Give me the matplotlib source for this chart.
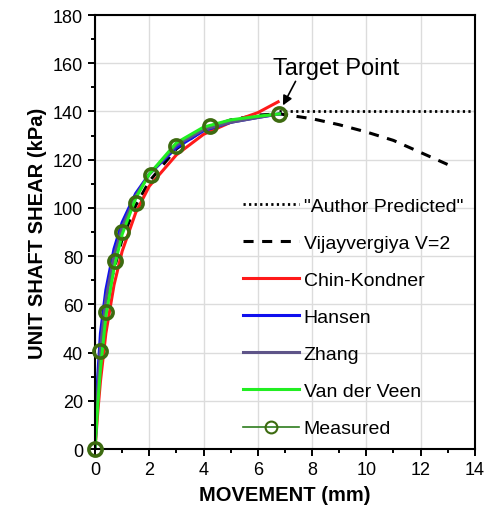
import matplotlib.pyplot as plt
import numpy as np
from matplotlib.lines import Line2D
from matplotlib.ticker import MultipleLocator

plt.rcParams['font.family'] = ['Liberation Sans', 'DejaVu Sans']

# measured load-transfer data
meas_x = [0, 0.2, 0.4, 0.75, 1.0, 1.5, 2.05, 3.0, 4.25, 6.8]
meas_y = [0, 40.5, 57, 78, 90, 102, 113.5, 125.5, 134, 139]

# fitted models
fit_x = [0, 0.1, 0.2, 0.4, 0.7, 1.0, 1.5, 2.0, 3.0, 4.0, 5.0, 6.0, 6.8]
hansen = [0, 30, 48, 66, 83, 94, 106, 114, 125, 132, 135.5, 137.5, 139]
zhang = [0, 24, 42, 62, 80, 92, 105, 114, 126, 132.5, 135.5, 137.5, 139]
veen = [0, 18, 33, 55, 75, 89, 104, 114, 127, 133.5, 136.5, 138, 139]
chin_x = [0, 0.1, 0.2, 0.4, 0.7, 1.0, 1.5, 2.0, 3.0, 4.0, 5.0, 6.0, 6.75]
chin = [0, 15, 28, 48, 68, 82, 98, 109, 122, 130.5, 135.5, 139.5, 144]

vij_x = [0, 0.2, 0.5, 1, 1.5, 2, 3, 4, 5, 6, 6.8, 8, 9, 10, 11, 12, 13]
vij_y = [0, 44, 66, 87, 101, 111, 124.5, 132.5, 136.5, 138.5, 139, 137, 134.5, 131.5, 128, 123, 118]

auth_x = [6.8, 14]
auth_y = [140, 140]

fig = plt.figure(figsize=(4.91, 5.10), dpi=100)
ax = fig.add_axes([0.1935, 0.1176, 0.7735, 0.851])

ax.plot(auth_x, auth_y, ':', color='k', lw=2, dashes=(0.8, 1.2), label='"Author Predicted"')
ax.plot(vij_x, vij_y, '--', color='k', lw=2.2, dashes=(3.3, 2.8), label='Vijayvergiya V=2')
ax.plot(chin_x, chin, color='#ff1a1a', lw=2.2, label='Chin-Kondner')
ax.plot(fit_x, hansen, color='#1010ee', lw=2.2, label='Hansen')
ax.plot(fit_x, zhang, color='#5e5488', lw=2.2, label='Zhang')
ax.plot(fit_x, veen, color='#22ee22', lw=2.2, label='Van der Veen')
ax.plot(meas_x, meas_y, 'o', mfc='none', mec='#3d6b10', mew=2.6, ms=9.5, zorder=5, clip_on=False)

ax.text(6.55, 155.5, 'Target Point', fontsize=17)
ax.annotate('', xy=(6.88, 141.5), xytext=(7.44, 153.5),
            arrowprops=dict(arrowstyle='-|>', color='k', lw=1.2, mutation_scale=14))

ax.set_xlim(0, 14)
ax.set_ylim(0, 180)
ax.xaxis.set_major_locator(MultipleLocator(2))
ax.xaxis.set_minor_locator(MultipleLocator(1))
ax.yaxis.set_major_locator(MultipleLocator(20))
ax.yaxis.set_minor_locator(MultipleLocator(10))
ax.tick_params(which='major', length=5, width=1.4, labelsize=13)
ax.tick_params(which='minor', length=3, width=1.4)
ax.grid(True, which='major', color='#dcdcdc', lw=1.0)
ax.set_axisbelow(True)
for s in ax.spines.values():
    s.set_linewidth(1.5)

ax.set_xlabel('MOVEMENT (mm)', fontsize=14.5, fontweight='bold', labelpad=5)
ax.set_ylabel('UNIT SHAFT SHEAR (kPa)', fontsize=14.5, fontweight='bold', labelpad=4)

handles, labels = ax.get_legend_handles_labels()
handles.append(Line2D([], [], color='#2e7d1e', lw=1.2, marker='o', mfc='none',
                      mec='#3d6b10', mew=1.5, ms=8.5))
labels.append('Measured')
ax.legend(handles, labels, loc='lower right', frameon=False, fontsize=14,
          handlelength=2.85, labelspacing=1.0, handletextpad=0.25,
          borderaxespad=0.2, bbox_to_anchor=(1.0, 0.0))

plt.savefig('out.png', dpi=100)
